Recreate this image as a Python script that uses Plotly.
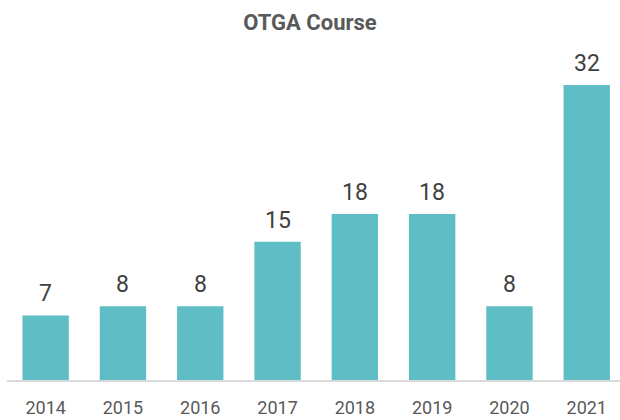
import plotly.graph_objects as go

years = ["2014", "2015", "2016", "2017", "2018", "2019", "2020", "2021"]
counts = [7, 8, 8, 15, 18, 18, 8, 32]

bar_color = "#5FBEC5"

fig = go.Figure()
fig.add_trace(go.Bar(
    x=years, y=counts, marker_color=bar_color, width=0.6,
    marker_line_width=0, hoverinfo="skip",
))

for i, v in enumerate(counts):
    fig.add_annotation(x=i, y=v, xref="x", yref="y", text=str(v), showarrow=False,
                       yanchor="bottom", yshift=6,
                       font=dict(family="Roboto", size=23, color="#404040"))

fig.update_layout(
    width=620, height=420,
    margin=dict(l=7, r=0, t=60, b=40, autoexpand=False),
    paper_bgcolor="white", plot_bgcolor="white",
    title=dict(text="<b>OTGA Course</b>", x=0.5, xanchor="center", y=0.947, yanchor="middle",
               font=dict(family="Roboto", size=22, color="#595959")),
    showlegend=False,
    bargap=0.4,
)
fig.update_xaxes(type="category", range=[-0.5, 7.43], showgrid=False, automargin=False,
                 showline=True, linecolor="#D9D9D9", linewidth=1.5,
                 ticks="", tickfont=dict(family="Roboto", size=18, color="#595959"),
                 ticklabelstandoff=11)
fig.update_yaxes(range=[0, 34.7], visible=False, showgrid=False, zeroline=False)

fig.write_html("out.html", config={"displayModeBar": False},
               post_script="document.body.style.margin='0';")
